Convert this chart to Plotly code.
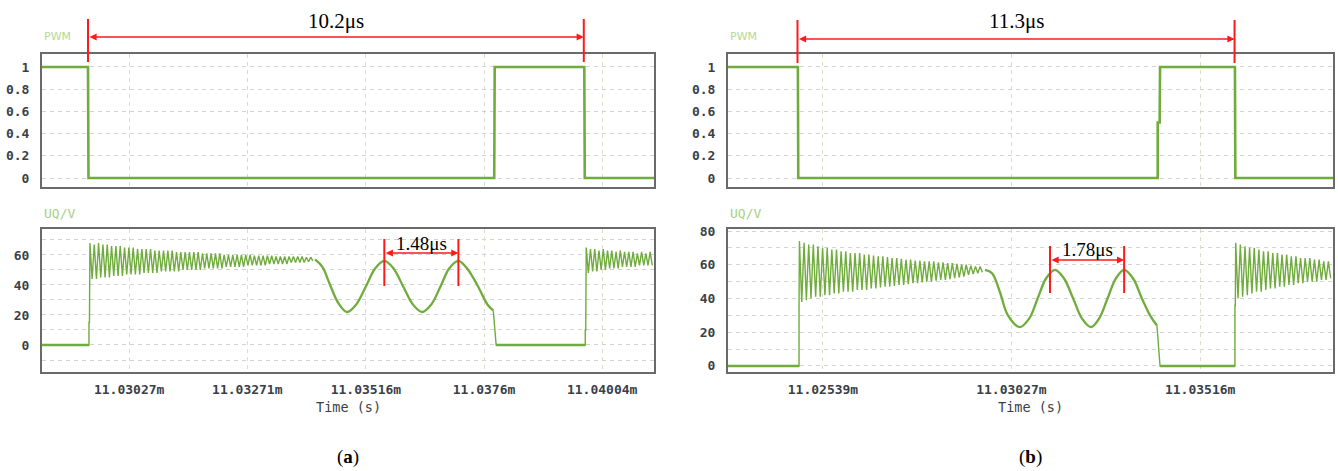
import plotly.graph_objects as go

# ---------------- data (time in microseconds) ----------------
# Panel (a)
A_RANGE = [11028.47, 11041.11]
A_TICKS = [11030.27, 11032.71, 11035.16, 11037.60, 11040.04]
A_TICKTEXT = ["11.03027m", "11.03271m", "11.03516m", "11.0376m", "11.04004m"]

A_PWM_T = [11028.47, 11029.42, 11029.43, 11037.81, 11037.82, 11039.67, 11039.68, 11041.11]
A_PWM_V = [1, 1, 0, 0, 1, 1, 0, 0]

A_PRE_T = [11028.47, 11029.44, 11029.44, 11029.45]
A_PRE_V = [0, 0, 15, 15]
A_BURST1_START = 11029.46
A_BURST1_HALF = 0.0447
A_BURST1_HI = [68, 67, 68, 67, 67, 66, 66, 66, 65, 65, 65, 64, 64, 64, 64, 63, 63, 63, 63, 63,
               62, 62, 62, 62, 62, 62, 61, 61, 61, 61, 61, 60, 60, 60, 60, 60, 60, 60, 59.5, 59.5,
               59.5, 59.5, 59.5, 59, 59, 59, 59, 59, 59, 59, 58.5, 58.5]
A_BURST1_LO = [44, 44, 45, 45, 45, 46, 46, 46, 47, 47, 47, 47, 48, 48, 48, 48, 49, 49, 49, 49,
               49, 50, 50, 50, 50, 50, 51, 51, 51, 51, 51, 52, 52, 52, 52, 52, 53, 53, 53, 53,
               53, 54, 54, 54, 54, 54, 55, 55, 55, 55, 55.5, 56]
A_SINE_T = [11034.11, 11034.26, 11034.42, 11034.59, 11034.77, 11034.96, 11035.16, 11035.35,
            11035.54, 11035.73, 11035.93, 11036.13, 11036.32, 11036.51, 11036.70, 11036.88,
            11037.07, 11037.25, 11037.46, 11037.67, 11037.79]
A_SINE_V = [57, 52, 40, 28, 22, 27, 39, 51, 56, 51, 39, 27, 22, 27, 39, 51, 56, 51, 40, 27, 23]
A_GAP_T = [11037.79, 11037.85, 11039.69, 11039.69, 11039.70]
A_GAP_V = [23, 0, 0, 10, 10]
A_BURST2_START = 11039.71
A_BURST2_HALF = 0.044
A_BURST2_HI = [65, 64, 64, 63, 64, 63, 63, 62, 63, 62, 62, 62, 61, 62, 61, 62]
A_BURST2_LO = [48, 49, 49, 50, 50, 51, 51, 51, 52, 52, 52, 52, 53, 53, 53, 53]

A_MARK_TOP = [11029.42, 11039.66]
A_MARK_BOT = [11035.54, 11037.07]
A_LABEL_TOP = "10.2μs"
A_LABEL_BOT = "1.48μs"

# Panel (b)
B_RANGE = [11022.93, 11038.60]
B_TICKS = [11025.39, 11030.27, 11035.16]
B_TICKTEXT = ["11.02539m", "11.03027m", "11.03516m"]

B_PWM_T = [11022.93, 11024.74, 11024.75, 11034.06, 11034.06, 11034.11, 11034.12,
           11036.06, 11036.07, 11038.60]
B_PWM_V = [1, 1, 0, 0, 0.5, 0.5, 1, 1, 0, 0]

B_PRE_T = [11022.93, 11024.77, 11024.77]
B_PRE_V = [0, 0, 37]
B_BURST1_START = 11024.78
B_BURST1_HALF = 0.06
B_BURST1_HI = [74, 73, 72, 72, 71, 70, 70, 69, 69, 68, 68, 67, 67, 67, 66, 66, 65.5, 65, 65, 64.5,
               64, 64, 63.5, 63, 63, 62.5, 62.5, 62, 62, 62, 61.5, 61.5, 61, 61, 60.5, 60, 60,
               59.5, 59, 59]
B_BURST1_LO = [38, 39, 40, 41, 41, 42, 42, 43, 43, 44, 44, 44, 45, 45, 45, 46, 46, 46.5, 47, 47,
               47.5, 48, 48, 48.5, 49, 49, 49.5, 50, 50, 50.5, 51, 51, 51.5, 52, 52.5, 53, 54,
               54.5, 55, 55.5]
B_SINE_T = [11029.59, 11029.77, 11029.97, 11030.18, 11030.49, 11030.73, 11030.95, 11031.17,
            11031.40, 11031.63, 11031.87, 11032.10, 11032.33, 11032.54, 11032.76, 11032.98,
            11033.19, 11033.42, 11033.65, 11033.86, 11034.04]
B_SINE_V = [57, 55, 44, 30, 23, 28, 40, 52, 57, 52, 40, 28, 23, 28, 40, 52, 57, 52, 40, 30, 24]
B_GAP_T = [11034.04, 11034.12, 11036.06, 11036.06, 11036.07]
B_GAP_V = [24, 0, 0, 36, 36]
B_BURST2_START = 11036.08
B_BURST2_HALF = 0.06
B_BURST2_HI = [73, 72, 71, 70, 70, 69, 68, 68, 67, 67, 66, 66, 65, 65, 64, 64, 64, 63, 63, 62, 62]
B_BURST2_LO = [40, 41, 42, 43, 44, 44, 45, 46, 46, 47, 47, 48, 48, 49, 49, 50, 50, 50, 51, 51, 52]

B_MARK_TOP = [11024.73, 11036.05]
B_MARK_BOT = [11031.27, 11033.19]
B_LABEL_TOP = "11.3μs"
B_LABEL_BOT = "1.78μs"

# ---------------- styling ----------------
GREEN = "#6FAC3C"
RED = "#FF1A1A"
MONO = "DejaVu Sans Mono"
SERIF = "Liberation Serif"
TICKCOL = "#3A3F48"
W, H = 1338, 471


def py(p):
    """pixel row -> paper y"""
    return 1 - p / H


def burst(t0, half, hi, lo):
    t, v = [], []
    for i, (h, l) in enumerate(zip(hi, lo)):
        t += [t0 + 2 * i * half, t0 + (2 * i + 1) * half]
        v += [h, l]
    return t, v


fig = go.Figure()


def line(x, y, xa, ya, shape="linear", width=2):
    fig.add_trace(go.Scatter(x=x, y=y, mode="lines", xaxis=xa, yaxis=ya,
                             line=dict(color=GREEN, width=width, shape=shape),
                             showlegend=False, hoverinfo="skip"))


# panel (a)
line(A_PWM_T, A_PWM_V, "x", "y", width=2.6)
bt, bv = burst(A_BURST1_START, A_BURST1_HALF, A_BURST1_HI, A_BURST1_LO)
line(A_PRE_T + bt, A_PRE_V + bv, "x2", "y2", width=1.4)
line(A_SINE_T, A_SINE_V, "x2", "y2", shape="spline", width=2.3)
bt, bv = burst(A_BURST2_START, A_BURST2_HALF, A_BURST2_HI, A_BURST2_LO)
line(A_GAP_T + bt, A_GAP_V + bv, "x2", "y2", width=1.4)
line(A_PRE_T[:2], A_PRE_V[:2], "x2", "y2", width=2.6)
line(A_GAP_T[1:3], A_GAP_V[1:3], "x2", "y2", width=2.6)

# panel (b)
line(B_PWM_T, B_PWM_V, "x3", "y3", width=2.6)
bt, bv = burst(B_BURST1_START, B_BURST1_HALF, B_BURST1_HI, B_BURST1_LO)
line(B_PRE_T + bt, B_PRE_V + bv, "x4", "y4", width=1.4)
line(B_SINE_T, B_SINE_V, "x4", "y4", shape="spline", width=2.3)
bt, bv = burst(B_BURST2_START, B_BURST2_HALF, B_BURST2_HI, B_BURST2_LO)
line(B_GAP_T + bt, B_GAP_V + bv, "x4", "y4", width=1.4)
line(B_PRE_T[:2], B_PRE_V[:2], "x4", "y4", width=2.6)
line(B_GAP_T[1:3], B_GAP_V[1:3], "x4", "y4", width=2.6)

# ---------------- axes ----------------
AX_X_A = [42 / W, 654 / W]
AX_X_B = [728 / W, 1333 / W]
DOM_TOP = [py(187), py(54)]
DOM_BOT = [py(372), py(229)]

frame = dict(showline=True, mirror=True, linecolor="#6A6A6A", linewidth=2, zeroline=False,
             fixedrange=True, automargin=False)
tickfont = dict(family=MONO, size=13, color=TICKCOL, weight="bold")
xgrid = dict(showgrid=True, gridcolor="#DADFCB", griddash="4px,4px", gridwidth=1)


def xaxis(dom, rng, ticks, text, labels, anchor):
    return dict(domain=dom, range=rng, tickvals=ticks, ticktext=text, showticklabels=labels,
                ticks="", tickfont=tickfont, anchor=anchor, ticklabelstandoff=4, **xgrid, **frame)


def yaxis(dom, rng, dtick, minor, anchor):
    return dict(domain=dom, range=rng, dtick=dtick, tick0=0, showgrid=True, gridcolor="#D2D2D2",
                griddash="4px,4px", ticks="", tickfont=tickfont, anchor=anchor,
                ticklabelstandoff=8,
                minor=dict(dtick=minor, tick0=0, showgrid=True, gridcolor="#D2D2D2",
                           griddash="4px,4px", ticks=""), **frame)


fig.update_layout(
    width=W, height=H, margin=dict(l=0, r=0, t=0, b=0, autoexpand=False),
    paper_bgcolor="white", plot_bgcolor="white",
    xaxis=xaxis(AX_X_A, A_RANGE, A_TICKS, A_TICKTEXT, False, "y"),
    yaxis=yaxis(DOM_TOP, [-0.081, 1.117], 0.2, 0.2, "x"),
    xaxis2=xaxis(AX_X_A, A_RANGE, A_TICKS, A_TICKTEXT, True, "y2"),
    yaxis2=yaxis(DOM_BOT, [-18, 77.3], 20, 10, "x2"),
    xaxis3=xaxis(AX_X_B, B_RANGE, B_TICKS, B_TICKTEXT, False, "y3"),
    yaxis3=yaxis(DOM_TOP, [-0.081, 1.117], 0.2, 0.2, "x3"),
    xaxis4=xaxis(AX_X_B, B_RANGE, B_TICKS, B_TICKTEXT, True, "y4"),
    yaxis4=yaxis(DOM_BOT, [-3.6, 81.2], 20, 10, "x4"),
)

# ---------------- annotations & markers ----------------
ann = []
shapes = []


def text(x, xref, y, s, font, xanchor="center"):
    ann.append(dict(x=x, xref=xref, y=y, yref="paper", text=s, showarrow=False,
                    xanchor=xanchor, yanchor="middle", font=font))


# panel labels
lab_pwm = dict(family="DejaVu Sans", size=11, color="#B7D88F")
lab_uq = dict(family=MONO, size=13, color="#A9CF80")
for xd in ["x domain", "x3 domain"]:
    text(0, xd, py(37), "PWM", lab_pwm, "left")
for xd in ["x2 domain", "x4 domain"]:
    text(0, xd, py(213), "UQ/V", lab_uq, "left")
for xd in ["x2 domain", "x4 domain"]:
    text(0.5, xd, py(407), "Time (s)", dict(family=MONO, size=13.5, color=TICKCOL))
text(0.5, "x2 domain", py(457), "(<b>a</b>)", dict(family=SERIF, size=19, color="black"))
text(0.5, "x4 domain", py(457), "(<b>b</b>)", dict(family=SERIF, size=19, color="black"))


def marker(xref, ts, y0, y1, ya, ty, label, size):
    for t in ts:
        shapes.append(dict(type="line", xref=xref, yref="paper", x0=t, x1=t,
                           y0=py(y0), y1=py(y1), line=dict(color=RED, width=2)))
    ann.append(dict(x=ts[1], y=py(ya), xref=xref, yref="paper", ax=ts[0], ay=0,
                    axref=xref, ayref="pixel", text="", showarrow=True,
                    arrowside="end+start", arrowhead=2, arrowsize=1.1, arrowwidth=1.3,
                    arrowcolor=RED, standoff=0, startstandoff=0))
    ann.append(dict(x=(ts[0] + ts[1]) / 2, y=py(ty), xref=xref, yref="paper", text=label,
                    showarrow=False, xanchor="center", yanchor="middle",
                    font=dict(family=SERIF, size=size, color="black")))


marker("x", A_MARK_TOP, 19, 62, 37, 21, A_LABEL_TOP, 21)
marker("x3", B_MARK_TOP, 20, 63, 39, 21, B_LABEL_TOP, 21)
marker("x2", A_MARK_BOT, 239, 286, 253, 243, A_LABEL_BOT, 19)
marker("x4", B_MARK_BOT, 246, 293, 260, 249, B_LABEL_BOT, 19)

fig.update_layout(annotations=ann, shapes=shapes)

fig.write_html("out.html", config={"displayModeBar": False},
               post_script="document.body.style.margin='0';"
                           "document.body.style.overflow='hidden';")
